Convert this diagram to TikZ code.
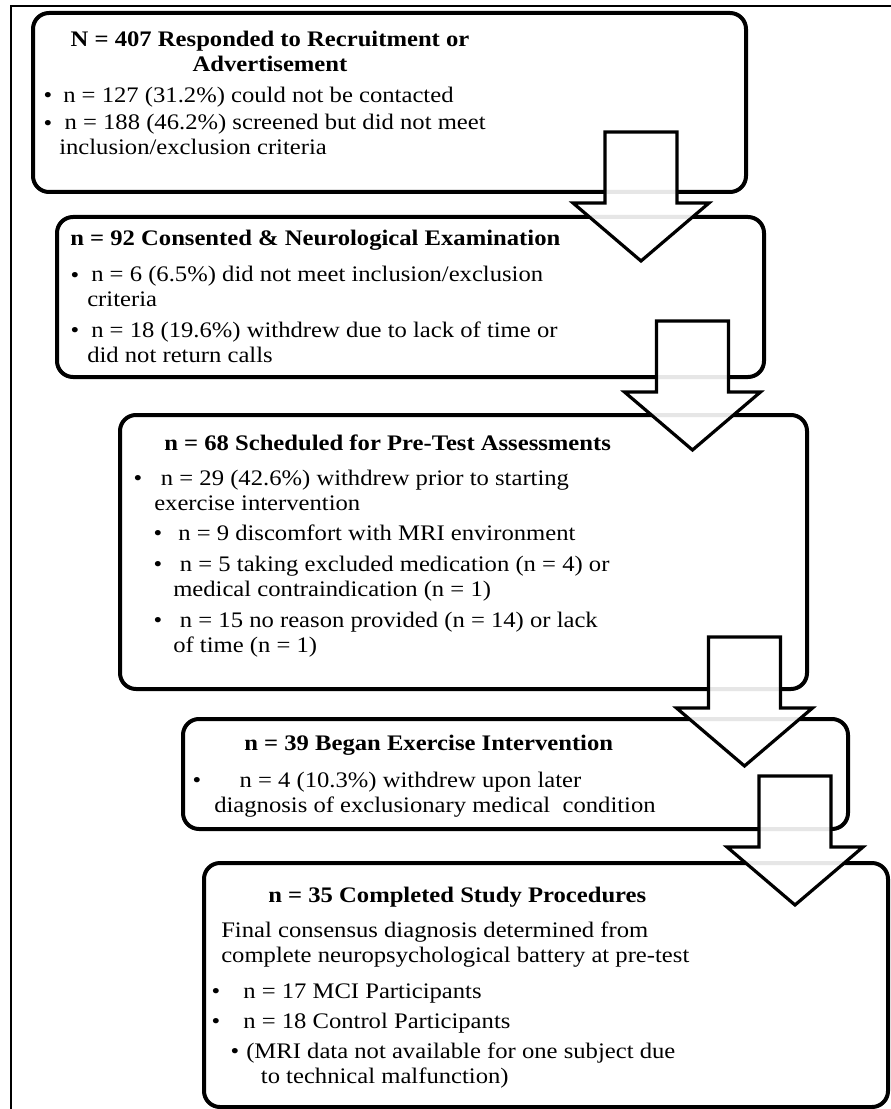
\documentclass[tikz,border=0pt]{standalone}
\usepackage{fontspec}
\setmainfont{Liberation Serif}[FakeStretch=1.11]

\begin{document}
\begin{tikzpicture}[x=0.75pt,y=0.75pt,yscale=-1,xscale=1,
  box/.style={draw, line width=3pt, rounded corners=12pt, inner sep=0pt, outer sep=0pt, anchor=north west},
  blockarrow/.style={draw, line width=2.4pt, fill=white, fill opacity=0.9, line join=miter},
  txt/.style={inner sep=0pt, anchor=base west, align=left, font=\fontsize{16.65pt}{18.75pt}\selectfont},
  ttl/.style={txt, font=\fontsize{16.65pt}{18.75pt}\selectfont\bfseries},
  dot/.style={txt, anchor=base}]
\useasboundingbox (0,0) rectangle (890,1109);

%Shape: Frame
\draw [line width=1.5pt] (11,1125) -- (11,6) -- (905,6) ;

%Shape: Rounded Rect [box1]
\node [box, minimum width=534.75pt, minimum height=134.25pt] (box1) at (33,13) {};
%Shape: Rounded Rect [box2]
\node [box, minimum width=530.25pt, minimum height=120pt] (box2) at (57,217) {};
%Shape: Rounded Rect [box3]
\node [box, minimum width=515.25pt, minimum height=205.5pt] (box3) at (120,415) {};
%Shape: Rounded Rect [box4]
\node [box, minimum width=498.75pt, minimum height=82.5pt] (box4) at (183,719) {};
%Shape: Rounded Rect [box5]
\node [box, minimum width=513pt, minimum height=183pt] (box5) at (204,863) {};

%Text box1 (multi-line nodes sit on their last baseline)
\node [ttl, align=center, anchor=base] (ttl1) at (270,72) {N = 407 Responded to Recruitment or\\Advertisement};
\node [dot] (d1a) at (48,103) {•};
\node [txt] (t1a) at (63,103) {n = 127 (31.2\%) could not be contacted};
\node [dot] (d1b) at (48,131) {•};
\node [txt] (t1b) at (59,155) {\hspace{4pt}n = 188 (46.2\%) screened but did not meet\\inclusion/exclusion criteria};

%Text box2
\node [ttl] (ttl2) at (70,245) {n = 92 Consented \& Neurological Examination};
\node [dot] (d2a) at (75,282) {•};
\node [txt] (t2a) at (87,306) {\hspace{3pt}n = 6 (6.5\%) did not meet inclusion/exclusion\\criteria};
\node [dot] (d2b) at (75,337) {•};
\node [txt] (t2b) at (87,362) {\hspace{3pt}n = 18 (19.6\%) withdrew due to lack of time or\\did not return calls};

%Text box3
\node [ttl] (ttl3) at (164,450) {n = 68 Scheduled for Pre-Test Assessments};
\node [dot] (d3a) at (138,485) {•};
\node [txt] (t3a) at (154,510) {\hspace{5pt}n = 29 (42.6\%) withdrew prior to starting\\exercise intervention};
\node [dot] (d3b) at (158,540) {•};
\node [txt] (t3b) at (178,540) {n = 9 discomfort with MRI environment};
\node [dot] (d3c) at (158,571) {•};
\node [txt] (t3c) at (173,596) {\hspace{5pt}n = 5 taking excluded medication (n = 4) or\\medical contraindication (n = 1)};
\node [dot] (d3d) at (158,627) {•};
\node [txt] (t3d) at (173,652) {\hspace{5pt}n = 15 no reason provided (n = 14) or lack\\of time (n = 1)};

%Text box4
\node [ttl] (ttl4) at (244,750) {n = 39 Began Exercise Intervention};
\node [dot] (d4a) at (197,787) {•};
\node [txt] (t4a) at (214,812) {\hspace{19pt}n = 4 (10.3\%) withdrew upon later\\diagnosis of exclusionary medical\ \ condition};

%Text box5
\node [ttl] (ttl5) at (268,902) {n = 35 Completed Study Procedures};
\node [txt] (t5a) at (221,962) {Final consensus diagnosis determined from\\complete neuropsychological battery at pre-test};
\node [dot] (d5b) at (216,998) {•};
\node [txt] (t5b) at (243,998) {n = 17 MCI Participants};
\node [dot] (d5c) at (216,1028) {•};
\node [txt] (t5c) at (243,1028) {n = 18 Control Participants};
\node [dot] (d5d) at (235,1058) {•};
\node [txt] (t5d) at (246,1083) {(MRI data not available for one subject due\\\hspace{11pt}to technical malfunction)};

%Shape: Block Arrows
\coordinate (a1) at (641,132);
\draw [blockarrow] (a1) ++(-36,0) -- ++(72,0) -- ++(0,71) -- ++(32,0) -- ++(-68,58) -- ++(-68,-58) -- ++(32,0) -- cycle ;
\coordinate (a2) at (692.5,321);
\draw [blockarrow] (a2) ++(-36,0) -- ++(72,0) -- ++(0,71) -- ++(32,0) -- ++(-68,58) -- ++(-68,-58) -- ++(32,0) -- cycle ;
\coordinate (a3) at (744.5,637);
\draw [blockarrow] (a3) ++(-36,0) -- ++(72,0) -- ++(0,71) -- ++(32,0) -- ++(-68,58) -- ++(-68,-58) -- ++(32,0) -- cycle ;
\coordinate (a4) at (795,776);
\draw [blockarrow] (a4) ++(-36,0) -- ++(72,0) -- ++(0,71) -- ++(32,0) -- ++(-68,58) -- ++(-68,-58) -- ++(32,0) -- cycle ;

\end{tikzpicture}
\end{document}
